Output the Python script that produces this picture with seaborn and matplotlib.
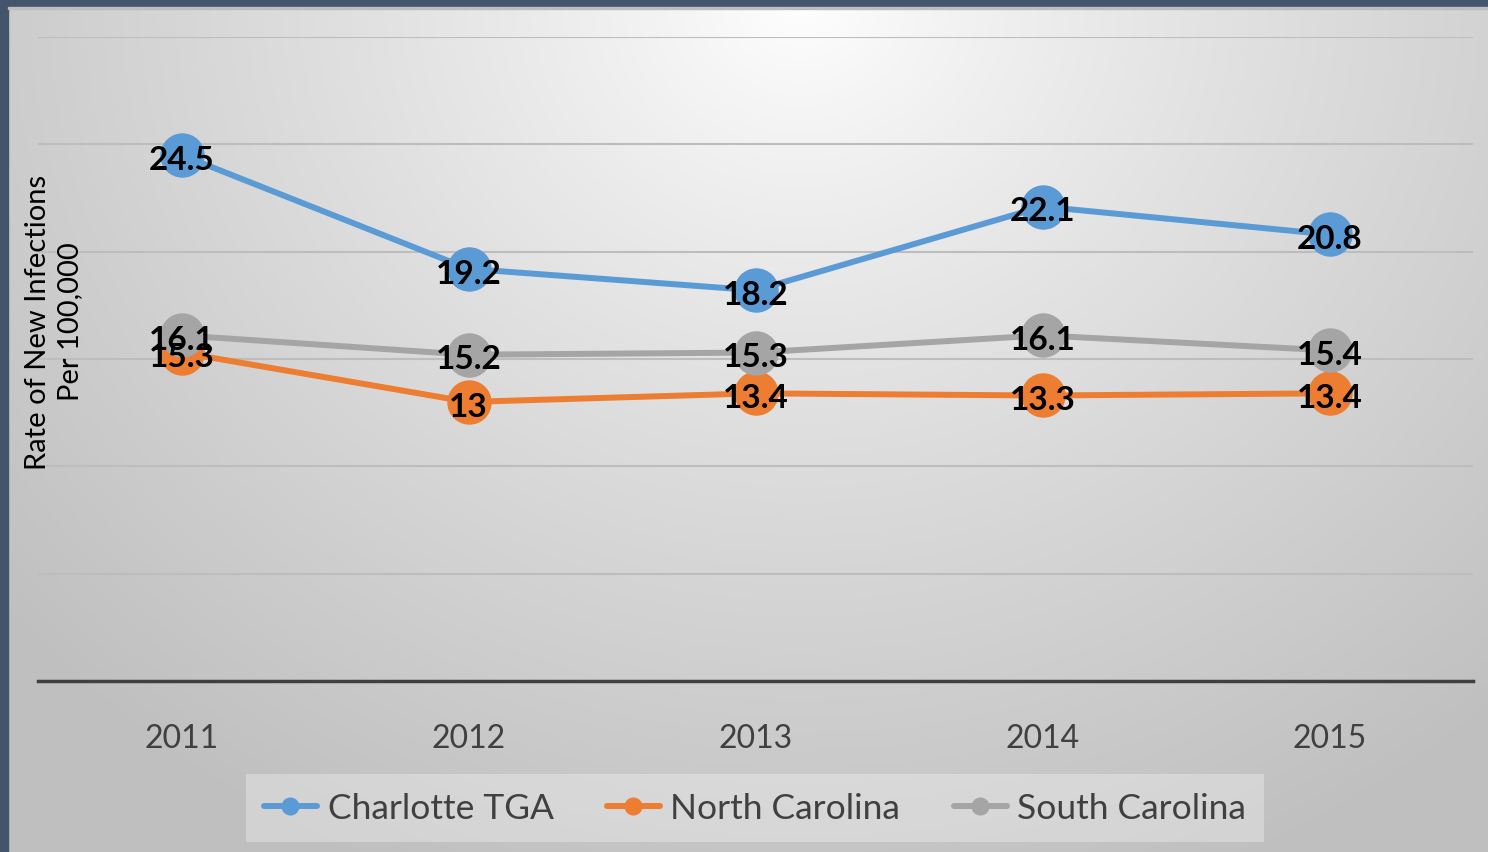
import numpy as np
import pandas as pd
import matplotlib
matplotlib.use("Agg")
import matplotlib.pyplot as plt
import seaborn as sns
from matplotlib.patches import Rectangle

years = ["2011", "2012", "2013", "2014", "2015"]
charlotte = [24.5, 19.2, 18.2, 22.1, 20.8]
north_carolina = [15.3, 13, 13.4, 13.3, 13.4]
south_carolina = [16.1, 15.2, 15.3, 16.1, 15.4]
series_names = ["Charlotte TGA", "North Carolina", "South Carolina"]
colors = ["#5B9BD5", "#ED7D31", "#A5A5A5"]

rows = []
for name, vals in zip(series_names, [charlotte, north_carolina, south_carolina]):
    for i, (y, v) in enumerate(zip(years, vals)):
        rows.append({"idx": i, "year": y, "value": v, "series": name})
df = pd.DataFrame(rows)

sns.set_style("white")
plt.rcParams["font.family"] = ["Lato", "DejaVu Sans"]

W, H = 1488, 853
fig = plt.figure(figsize=(W / 100, H / 100), dpi=100)

# background gradient
bg = fig.add_axes([0, 0, 1, 1], zorder=-10)
yy, xx = np.mgrid[0:H, 0:W]
d = np.sqrt((xx - 800) ** 2 + ((yy - 0) * 1.1) ** 2)
t = np.clip(d / 1050, 0, 1) ** 0.85
val = 1.0 - 0.25 * t
img = np.dstack([val, val, val])
bg.imshow(img, aspect="auto", extent=[0, W, H, 0])
bg.add_patch(Rectangle((0, 0), W, 8, color="#44546A"))
bg.add_patch(Rectangle((0, 0), 8, H, color="#44546A"))
bg.add_patch(Rectangle((8, 8), W, 2, color="#BDBDBD"))
bg.set_xlim(0, W)
bg.set_ylim(H, 0)
bg.axis("off")

# plot axes: x 38..1473, y 38..682
ax = fig.add_axes([38 / W, 1 - 682 / H, (1473 - 38) / W, (682 - 38) / H])
ax.patch.set_alpha(0)

sns.lineplot(data=df, x="idx", y="value", hue="series", palette=colors,
             hue_order=series_names, marker="o", markersize=32, linewidth=4.3,
             markeredgewidth=0, ax=ax, legend=True, zorder=3)

ax.set_xlim(-0.5, 4.5)
ax.set_ylim(0, 30)
ax.set_yticks([0, 5, 10, 15, 20, 25, 30])
ax.yaxis.grid(True, color="#BDBDBD", linewidth=1.5, zorder=0)
ax.set_axisbelow(True)
ax.set_yticklabels([])
ax.tick_params(axis="y", length=0)
ax.set_xticks(range(len(years)))
ax.set_xticklabels(years, fontsize=23, color="#404040")
ax.tick_params(axis="x", length=0, pad=30)
for s in ["top", "right", "left"]:
    ax.spines[s].set_visible(False)
ax.spines["bottom"].set_color("#404040")
ax.spines["bottom"].set_linewidth(2.5)
ax.set_xlabel("")
ax.set_ylabel("")

fig.text(54 / W, 1 - 322 / H, "Rate of New Infections\nPer 100,000", rotation=90,
         ha="center", va="center", fontsize=21, color="#000000", linespacing=1.3)

for vals in [charlotte, south_carolina, north_carolina]:
    for i, v in enumerate(vals):
        ax.annotate(f"{v:g}", (i, v), xytext=(0, -3), textcoords="offset points",
                    ha="center", va="center", fontsize=24,
                    fontweight="bold", color="black", zorder=5)

leg = ax.legend(loc="center", bbox_to_anchor=((755 - 38) / (1473 - 38), -(809 - 682) / (682 - 38)),
                ncol=3, frameon=True, fontsize=25.5, handlelength=1.5, handletextpad=0.3,
                columnspacing=1.5, borderpad=0.5, fancybox=False, borderaxespad=0)
frame = leg.get_frame()
frame.set_facecolor("white")
frame.set_alpha(0.3)
frame.set_edgecolor("none")
for line in leg.get_lines():
    line.set_markersize(13)
    line.set_linewidth(4.3)
for txt in leg.get_texts():
    txt.set_color("#404040")

fig.savefig("out.png", dpi=100)
